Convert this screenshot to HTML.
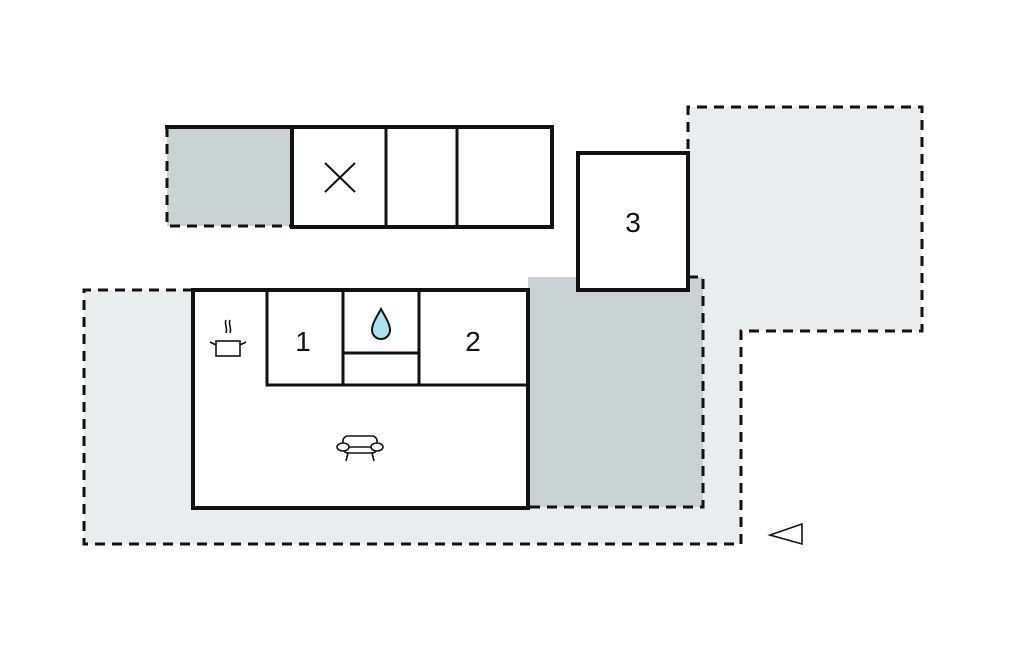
<!DOCTYPE html>
<html><head><meta charset="utf-8"><style>html,body{margin:0;background:#fff}svg{display:block}</style></head>
<body>
<svg width="1024" height="652" viewBox="0 0 1024 652" xmlns="http://www.w3.org/2000/svg">
<polygon points="84,290 688,290 688,107 922,107 922,331 741,331 741,544 84,544" fill="#e9eded"/>
<rect x="528" y="277" width="175" height="230" fill="#c9d3d3"/>
<rect x="167" y="127" width="125" height="99" fill="#c9d3d3"/>
<g fill="none" stroke="#111" stroke-width="3" stroke-dasharray="10,7">
<path d="M193,290 H84 V544 H741 V331 H922 V107 H688 V153"/>
<path d="M688,277 H703 V507 H528"/>
<path d="M167,127 V226 H292"/>
</g>
<path d="M165,127 H292" stroke="#111" stroke-width="4"/>
<g fill="#fff" stroke="#111" stroke-width="4">
<rect x="193" y="290" width="335" height="218"/>
<rect x="292" y="127" width="260" height="100"/>
<rect x="578" y="153" width="110" height="137"/>
</g>
<g stroke="#111" stroke-width="3" fill="none">
<path d="M386,127V227M457,127V227"/>
<path d="M267,290V385H528M343,290V385M419,290V385M343,353H419"/>
<path d="M325,163L355,192M355,163L325,192" stroke-width="2"/>
</g>
<g font-family="Liberation Sans, sans-serif" font-size="28" fill="#111" text-anchor="middle">
<text x="633" y="232">3</text><text x="303" y="351">1</text><text x="473" y="351">2</text>
</g>
<path d="M381,309 C376,318 372,324 372,330 A9,9 0 0 0 390,330 C390,324 386,318 381,309Z" fill="#a8e4ee" stroke="#111" stroke-width="2"/>
<g stroke="#111" stroke-width="1.6" fill="none">
<rect x="216" y="341" width="24" height="15" fill="#fff"/>
<path d="M216,345L210,342M240,345L246,342"/>
<path d="M226,320c-2,4 2,8 0,13M230,320c-2,4 2,8 0,13"/>
<rect x="343" y="436" width="34" height="17" rx="5" fill="#fff"/>
<ellipse cx="343" cy="447" rx="6" ry="4" fill="#fff"/><ellipse cx="377" cy="447" rx="6" ry="4" fill="#fff"/>
<path d="M349,447H371M348,453L346,461M372,453L374,461"/>
<path d="M802,524 V544 L770,535 Z"/>
</g>
</svg>
</body></html>
